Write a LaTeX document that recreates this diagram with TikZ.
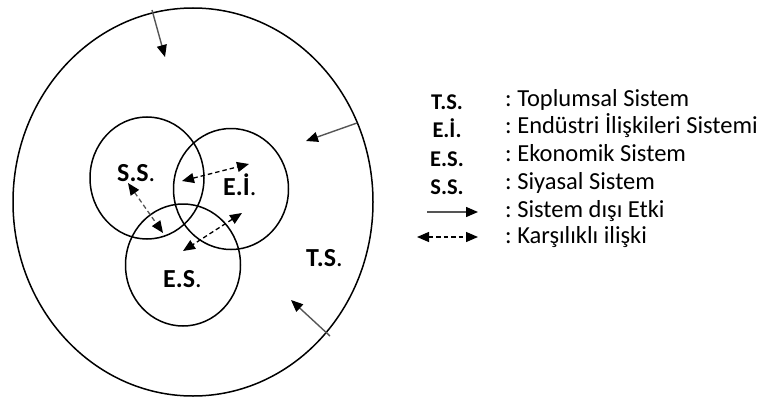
\documentclass[tikz,border=0pt]{standalone}
\usepackage{fontspec}
\setmainfont{Carlito}
\frenchspacing
\usetikzlibrary{arrows.meta,shapes.geometric}
\definecolor{arrgray}{HTML}{555555}
\tikzset{
  ring/.style={draw=black, line width=1.5pt, ellipse, inner sep=0pt},
  tipA/.tip={Triangle[length=12pt,width=10pt,color=black]},
  outarrow/.style={draw=arrgray, line width=1.4pt, -tipA},
  mutual/.style={draw=black, line width=1.3pt, dash pattern=on 4.5pt off 3pt, tipA-tipA},
  biglabel/.style={font=\fontsize{26}{30}\selectfont, anchor=base west, inner sep=0pt},
  keylabel/.style={font=\bfseries\fontsize{22.5}{26}\selectfont, anchor=base, inner sep=0pt},
  keytext/.style={font=\fontsize{24.5}{28}\selectfont, anchor=base west, inner sep=0pt}
}
\begin{document}
\begin{tikzpicture}[x=1pt,y=-1pt]
\useasboundingbox (0,0) rectangle (757,396);
% circles
\node[ring, minimum width=360pt, minimum height=388pt] (ts) at (193,202) {};
\node[ring, minimum width=114pt, minimum height=122pt] (ss) at (147,178) {};
\node[ring, minimum width=115pt, minimum height=121pt] (ei) at (231,189) {};
\node[ring, minimum width=115pt, minimum height=122pt] (es) at (183,265) {};
% labels
\node[biglabel] (lss) at (117,181) {\textbf{S.S}.};
\node[biglabel] (lei) at (223,195) {\textbf{E.İ}.};
\node[biglabel] (les) at (163,287) {\textbf{E.S}.};
\node[biglabel] (lts) at (306,266) {\textbf{T.S}.};
% outside influence arrows
\coordinate (o1s) at (152,10);  \coordinate (o1e) at (165,57);
\coordinate (o2s) at (357,123); \coordinate (o2e) at (306,141);
\coordinate (o3s) at (330,336); \coordinate (o3e) at (291,300);
\draw[outarrow] (o1s) -- (o1e);
\draw[outarrow] (o2s) -- (o2e);
\draw[outarrow] (o3s) -- (o3e);
% mutual relations
\coordinate (m1a) at (128,183); \coordinate (m1b) at (163,233);
\coordinate (m2a) at (182,181); \coordinate (m2b) at (249,164);
\coordinate (m3a) at (242,213); \coordinate (m3b) at (183,251);
\draw[mutual, draw=arrgray] (m1a) -- (m1b);
\draw[mutual] (m2a) -- (m2b);
\draw[mutual] (m3a) -- (m3b);
% legend
\node[keylabel] (kts) at (447,109) {T.S.};
\node[keylabel] (kei) at (447,137) {E.İ.};
\node[keylabel] (kes) at (447,166) {E.S.};
\node[keylabel] (kss) at (447,194) {S.S.};
\coordinate (ka1) at (427,212); \coordinate (ka2) at (478,212);
\draw[outarrow] (ka1) -- (ka2);
\coordinate (kb1) at (417,237); \coordinate (kb2) at (478,237);
\draw[mutual] (kb1) -- (kb2);
\node[keytext] (t1) at (505,106) {: Toplumsal Sistem};
\node[keytext] (t2) at (505,133) {: Endüstri İlişkileri Sistemi};
\node[keytext] (t3) at (505,161) {: Ekonomik Sistem};
\node[keytext] (t4) at (505,189) {: Siyasal Sistem};
\node[keytext] (t5) at (505,217) {: Sistem dışı Etki};
\node[keytext] (t6) at (505,243) {: Karşılıklı ilişki};
\end{tikzpicture}
\end{document}
